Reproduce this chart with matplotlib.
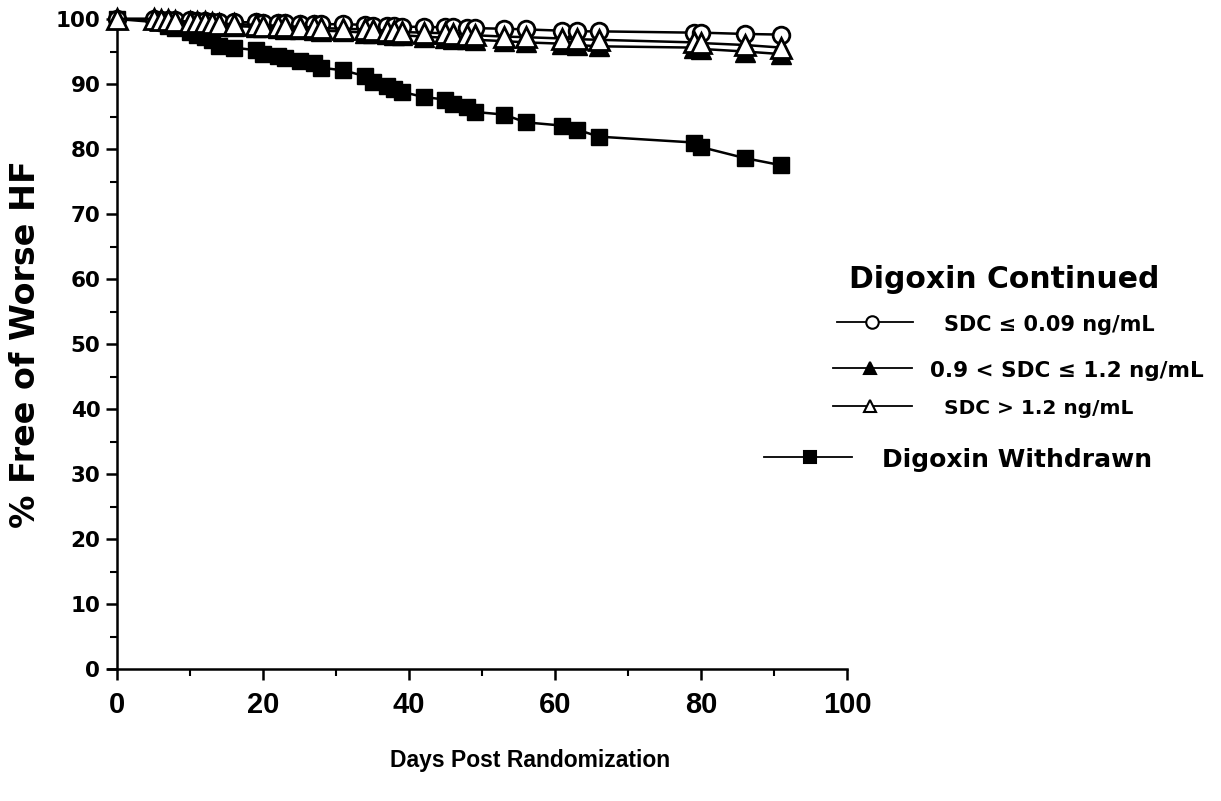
import numpy as np
import matplotlib
matplotlib.use("Agg")
import matplotlib.pyplot as plt
from matplotlib.lines import Line2D
from matplotlib.ticker import MultipleLocator

plt.rcParams['font.family'] = ['Liberation Sans', 'DejaVu Sans']
plt.rcParams['font.weight'] = 'bold'
WIDE = ['DejaVu Sans']

# days at which the continued-digoxin curves step
days = [0, 5, 6, 7, 8, 10, 11, 12, 13, 14, 16, 19, 20, 22, 23, 25, 27, 28, 31,
        34, 35, 37, 38, 39, 42, 45, 46, 48, 49, 53, 56, 61, 63, 66, 79, 80, 86, 91]

sdc_low = [100, 100, 99.9, 99.9, 99.8, 99.8, 99.7, 99.7, 99.6, 99.6, 99.5, 99.5, 99.4,
           99.4, 99.4, 99.3, 99.3, 99.2, 99.2, 99.1, 99.0, 98.9, 98.9, 98.8, 98.8, 98.7,
           98.7, 98.6, 98.6, 98.5, 98.4, 98.2, 98.1, 98.1, 97.9, 97.9, 97.7, 97.6]
sdc_mid = [100, 100, 99.8, 99.7, 99.6, 99.5, 99.4, 99.3, 99.2, 99.0, 98.9, 98.8, 98.7,
           98.6, 98.5, 98.4, 98.3, 98.2, 98.1, 97.9, 97.8, 97.7, 97.6, 97.5, 97.3, 97.1,
           97.0, 96.9, 96.8, 96.6, 96.4, 96.2, 96.0, 95.8, 95.6, 95.4, 95.0, 94.6]
sdc_high = [100, 100, 99.9, 99.8, 99.7, 99.6, 99.5, 99.5, 99.4, 99.3, 99.2, 99.1, 99.0,
            99.0, 98.9, 98.8, 98.7, 98.6, 98.5, 98.4, 98.3, 98.2, 98.1, 98.0, 97.9, 97.8,
            97.7, 97.6, 97.5, 97.3, 97.2, 97.0, 96.9, 96.8, 96.4, 96.3, 96.0, 95.6]

wd_days = [0, 5.5, 7, 8, 10, 11, 12, 13, 14, 16, 19, 20, 22, 23, 25, 27, 28, 31, 34, 35,
           37, 38, 39, 42, 45, 46, 48, 49, 53, 56, 61, 63, 66, 79, 80, 86, 91]
withdrawn = [100, 99.5, 99.0, 98.6, 98.0, 97.6, 97.2, 96.8, 95.9, 95.6, 95.2, 94.6, 94.3,
             94.0, 93.6, 93.2, 92.5, 92.1, 91.2, 90.3, 89.7, 89.3, 88.8, 88.0, 87.6, 87.0,
             86.5, 85.7, 85.3, 84.1, 83.6, 83.0, 81.9, 81.0, 80.3, 78.6, 77.5]

fig = plt.figure(figsize=(12.21, 8.01), dpi=100)
ax = fig.add_axes([117 / 1221, 1 - 669 / 801, 730 / 1221, 650 / 801])

ax.plot(wd_days, withdrawn, color='black', lw=1.8, marker='s', ms=11,
        mfc='black', mec='black', zorder=2, clip_on=False)
ax.plot(days, sdc_low, color='black', lw=1.8, marker='o', ms=12,
        mfc='white', mec='black', mew=2, zorder=3, clip_on=False)
ax.plot(days, sdc_mid, color='black', lw=1.8, marker='^', ms=14,
        mfc='black', mec='black', zorder=4, clip_on=False)
ax.plot(days, sdc_high, color='black', lw=1.8, marker='^', ms=14,
        mfc='white', mec='black', mew=2, zorder=5, clip_on=False)

ax.set_xlim(0, 100)
ax.set_ylim(0, 100)
ax.spines['top'].set_visible(False)
ax.spines['right'].set_visible(False)
ax.spines['left'].set_linewidth(1.8)
ax.spines['bottom'].set_linewidth(1.8)
ax.spines['bottom'].set_bounds(-1.2, 100)
ax.xaxis.set_major_locator(MultipleLocator(20))
ax.xaxis.set_minor_locator(MultipleLocator(10))
ax.yaxis.set_major_locator(MultipleLocator(10))
ax.yaxis.set_minor_locator(MultipleLocator(5))
ax.tick_params(axis='both', which='major', direction='out', length=8, width=1.8)
ax.tick_params(axis='both', which='minor', direction='out', length=5, width=1.5)
ax.tick_params(axis='x', pad=8)
ax.tick_params(axis='y', pad=4)
for lab in ax.get_xticklabels():
    lab.set_fontsize(21)
    lab.set_fontweight('bold')
for lab in ax.get_yticklabels():
    lab.set_fontsize(15.5)
    lab.set_fontweight('bold')
    lab.set_family(WIDE)

ax.set_ylabel('% Free of Worse HF', fontsize=24, fontweight='bold', family=WIDE,
              labelpad=10)
fig.text(530 / 1221, 1 - 760 / 801, 'Days Post Randomization', fontsize=16.5,
         fontweight='bold', ha='center', va='center')

# legend drawn by hand to mirror the original layout
def fy(p):
    return 1 - p / 801

def fx(p):
    return p / 1221

fig.text(fx(1004), fy(280), 'Digoxin Continued', fontsize=21.5, fontweight='bold',
         family=WIDE, ha='center', va='center')
entries = [
    (837, 913, 872, 322, 'o', 'white', 944, 'SDC \u2264 0.09 ng/mL', 15),
    (833, 912, 870, 368, '^', 'black', 930, '0.9 < SDC \u2264 1.2 ng/mL', 15.5),
    (833, 912, 870, 406, '^', 'white', 944, 'SDC > 1.2 ng/mL', 14.5),
    (764, 852, 810, 457, 's', 'black', 882, 'Digoxin Withdrawn', 18),
]
for x0, x1, xm, yy, mk, fc, xt, txt, fs in entries:
    fig.add_artist(Line2D([fx(x0), fx(x1)], [fy(yy), fy(yy)], color='black', lw=1.3))
    fig.add_artist(Line2D([fx(xm)], [fy(yy)], marker=mk, ms=9, mfc=fc, mec='black',
                          mew=1.5, color='black'))
    fig.text(fx(xt), fy(yy + 3), txt, fontsize=fs, fontweight='bold', family=WIDE,
             ha='left', va='center')

fig.savefig('out.png', dpi=100)
